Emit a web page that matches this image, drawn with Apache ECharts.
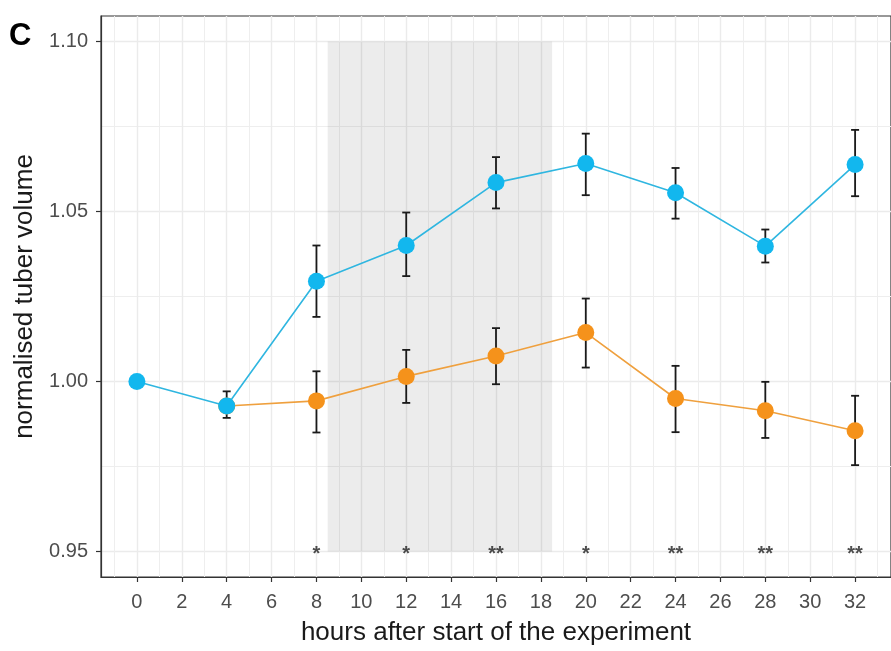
<!DOCTYPE html>
<html>
<head>
<meta charset="utf-8">
<script src="https://cdn.jsdelivr.net/npm/echarts@6/dist/echarts.min.js"></script>
<style>
  html, body { margin: 0; padding: 0; background: #fff; }
  #chart { width: 891px; height: 651px; }
</style>
</head>
<body>
<div id="chart"></div>
<script>
// hours (x) and normalised tuber volume (y)
const blueHours = [0, 4, 8, 12, 16, 20, 24, 28, 32];
const blueMean = [1.000, 0.9928, 1.0295, 1.0400, 1.0585, 1.0641, 1.0555, 1.0398, 1.0638];
const blueLow = [null, 0.9893, 1.0190, 1.0310, 1.0509, 1.0548, 1.0479, 1.0350, 1.0545];
const blueHigh = [null, 0.9971, 1.0400, 1.0497, 1.0660, 1.0729, 1.0628, 1.0447, 1.0740];

const orangeHours = [4, 8, 12, 16, 20, 24, 28, 32];
const orangeMean = [0.9928, 0.9943, 1.0015, 1.0075, 1.0144, 0.9950, 0.9914, 0.9855];
const orangeLow = [null, 0.9850, 0.9937, 0.9992, 1.0041, 0.9851, 0.9834, 0.9754];
const orangeHigh = [null, 1.0030, 1.0093, 1.0157, 1.0244, 1.0046, 0.9999, 0.9958];

// significance marks
const sigHours = [8, 12, 16, 20, 24, 28, 32];
const sigLabels = ['*', '*', '**', '*', '**', '**', '**'];
const sigY = 0.95;

// shaded period
const shadeHours = [8.5, 18.5];
const shadeVolume = [0.95, 1.10];

// axis ticks
const xTicks = [0, 2, 4, 6, 8, 10, 12, 14, 16, 18, 20, 22, 24, 26, 28, 30, 32];
const xMinor = [-1, 1, 3, 5, 7, 9, 11, 13, 15, 17, 19, 21, 23, 25, 27, 29, 31, 33];
const yTicks = [0.95, 1.00, 1.05, 1.10];
const yMinor = [0.975, 1.025, 1.075];

const X_MIN = -1.6, X_MAX = 33.6;
const Y_MIN = 0.9425, Y_MAX = 1.1075;

const FONT = 'Liberation Sans, Arial, sans-serif';
const BLUE = '#12B7EE', BLUE_LINE = '#2FB6E0';
const ORANGE = '#F5921B', ORANGE_LINE = '#EFA03E';

function pairs(xs, ys) {
  return xs.map((x, i) => [x, ys[i]]);
}
function bars(xs, lo, hi) {
  const out = [];
  xs.forEach((x, i) => {
    if (lo[i] != null) out.push([x, lo[i], hi[i]]);
  });
  return out;
}

function renderErrorBar(params, api) {
  const x = api.value(0);
  const lo = api.coord([x, api.value(1)]);
  const hi = api.coord([x, api.value(2)]);
  const w = 4;
  const style = { stroke: '#1a1a1a', lineWidth: 1.8 };
  return {
    type: 'group',
    children: [
      { type: 'line', shape: { x1: lo[0], y1: lo[1], x2: hi[0], y2: hi[1] }, style: style },
      { type: 'line', shape: { x1: hi[0] - w, y1: hi[1], x2: hi[0] + w, y2: hi[1] }, style: style },
      { type: 'line', shape: { x1: lo[0] - w, y1: lo[1], x2: lo[0] + w, y2: lo[1] }, style: style }
    ]
  };
}

const chart = echarts.init(document.getElementById('chart'), null, { renderer: 'canvas' });

const option = {
  backgroundColor: '#fff',
  animation: false,
  grid: {
    left: 101, top: 16, right: 0, bottom: 73,
    show: true, borderColor: '#333', borderWidth: 1.2, backgroundColor: 'transparent'
  },
  graphic: [{
    type: 'text', left: 9, top: 21,
    style: { text: 'C', font: 'bold 31px ' + FONT, fill: '#000' }
  }],
  xAxis: [{
    type: 'value', min: X_MIN, max: X_MAX, position: 'bottom',
    name: 'hours after start of the experiment', nameLocation: 'middle', nameGap: 43,
    nameTextStyle: { fontFamily: FONT, fontSize: 26, color: '#1a1a1a' },
    axisLine: { show: true, onZero: false, lineStyle: { color: '#333', width: 1.2 } },
    axisTick: { show: true, customValues: xTicks, length: 5, lineStyle: { color: '#333', width: 1.2 } },
    axisLabel: { customValues: xTicks, color: '#4D4D4D', fontFamily: FONT, fontSize: 20, margin: 15 },
    splitLine: { show: true, lineStyle: { color: '#EBEBEB', width: 1.4 } }
  }, {
    type: 'value', min: X_MIN, max: X_MAX, position: 'bottom',
    axisLine: { show: false },
    axisTick: { show: false, customValues: xMinor },
    axisLabel: { show: false, customValues: xMinor },
    splitLine: { show: true, lineStyle: { color: '#EEEEEE', width: 1 } }
  }],
  yAxis: [{
    type: 'value', min: Y_MIN, max: Y_MAX, position: 'left',
    name: 'normalised tuber volume', nameLocation: 'middle', nameGap: 59, nameRotate: 90,
    nameTextStyle: { fontFamily: FONT, fontSize: 26, color: '#1a1a1a' },
    axisLine: { show: true, onZero: false, lineStyle: { color: '#333', width: 1.2 } },
    axisTick: { show: true, customValues: yTicks, length: 5, lineStyle: { color: '#333', width: 1.2 } },
    axisLabel: {
      customValues: yTicks, color: '#4D4D4D', fontFamily: FONT, fontSize: 20, margin: 13,
      formatter: v => v.toFixed(2)
    },
    splitLine: { show: true, lineStyle: { color: '#EBEBEB', width: 1.4 } }
  }, {
    type: 'value', min: Y_MIN, max: Y_MAX, position: 'left',
    axisLine: { show: false },
    axisTick: { show: false, customValues: yMinor },
    axisLabel: { show: false, customValues: yMinor },
    splitLine: { show: true, lineStyle: { color: '#EEEEEE', width: 1 } }
  }],
  series: [
    {
      name: 'shade', type: 'scatter', z: 1, silent: true,
      data: pairs(sigHours, sigHours.map(() => sigY)),
      symbolSize: 1, itemStyle: { color: 'transparent' },
      label: {
        show: true, position: 'inside', offset: [0, 3],
        formatter: p => sigLabels[p.dataIndex],
        fontFamily: FONT, fontSize: 20, fontWeight: 'bold', color: '#222'
      },
      markArea: {
        silent: true,
        itemStyle: { color: 'rgba(0,0,0,0.075)' },
        data: [[
          { xAxis: shadeHours[0], yAxis: shadeVolume[0] },
          { xAxis: shadeHours[1], yAxis: shadeVolume[1] }
        ]]
      }
    },
    {
      name: 'blue err', type: 'custom', z: 3, silent: true,
      renderItem: renderErrorBar,
      encode: { x: 0, y: [1, 2] },
      data: bars(blueHours, blueLow, blueHigh)
    },
    {
      name: 'orange err', type: 'custom', z: 3, silent: true,
      renderItem: renderErrorBar,
      encode: { x: 0, y: [1, 2] },
      data: bars(orangeHours, orangeLow, orangeHigh)
    },
    {
      name: 'orange', type: 'line', z: 4,
      data: pairs(orangeHours, orangeMean),
      symbol: 'circle', symbolSize: 17,
      lineStyle: { color: ORANGE_LINE, width: 1.6 },
      itemStyle: { color: ORANGE, borderWidth: 0 }
    },
    {
      name: 'blue', type: 'line', z: 5,
      data: pairs(blueHours, blueMean),
      symbol: 'circle', symbolSize: 17,
      lineStyle: { color: BLUE_LINE, width: 1.6 },
      itemStyle: { color: BLUE, borderWidth: 0 }
    }
  ]
};

chart.setOption(option);
</script>
</body>
</html>
